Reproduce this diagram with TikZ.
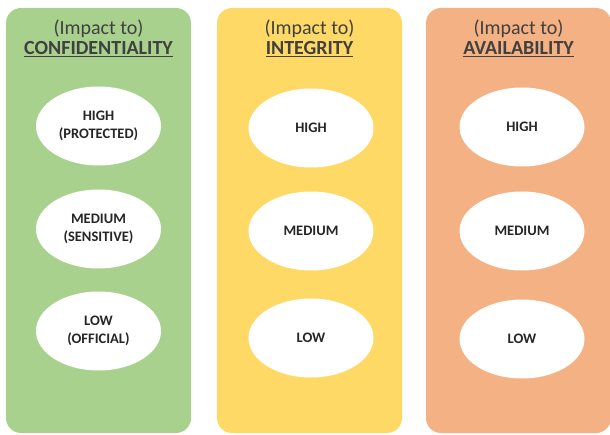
\documentclass[tikz,border=0pt]{standalone}
\usepackage{fontspec}
\setmainfont{Carlito}
\usepackage{tikz}
\usetikzlibrary{positioning,shapes.geometric}

\definecolor{confgreen}{HTML}{A9D18E}
\definecolor{integyellow}{HTML}{FFD966}
\definecolor{availorange}{HTML}{F4B183}

\begin{document}
\begin{tikzpicture}[x=1pt, y=-1pt,
        panel/.style={rounded corners=15pt, minimum width=185pt,
          minimum height=425pt, inner sep=0pt},
        head/.style={align=center, text=black!75,
          font=\fontsize{20}{20}\selectfont},
        level/.style={ellipse, fill=white, align=center, inner sep=0pt,
          minimum width=125pt, minimum height=79pt, text=black!85,
          font=\bfseries\fontsize{14.5}{18}\selectfont}]
      \useasboundingbox (0,0) rectangle (610,435);
      % the three columns
      \node[panel, fill=confgreen]   (conf)  at ( 98.5,220.5) {};
      \node[panel, fill=integyellow] (integ) at (309.5,220.5) {};
      \node[panel, fill=availorange] (avail) at (518.5,220.5) {};
      % headings
      \node[head] (confHead)  at ( 98.5,38) {(Impact to)\\\textbf{\underline{CONFIDENTIALITY}}};
      \node[head] (integHead) at (309.5,38) {(Impact to)\\\textbf{\underline{INTEGRITY}}};
      \node[head] (availHead) at (518.5,38) {(Impact to)\\\textbf{\underline{AVAILABILITY}}};
      % confidentiality levels
      \node[level] (confHigh) at ( 98.5,126) {HIGH\\(PROTECTED)};
      \node[level] (confMed)  at ( 98.5,229) {MEDIUM\\(SENSITIVE)};
      \node[level] (confLow)  at ( 98.5,331) {LOW\\(OFFICIAL)};
      % integrity levels
      \node[level] (integHigh) at (311,128) {HIGH};
      \node[level] (integMed)  at (311,231) {MEDIUM};
      \node[level] (integLow)  at (311,338) {LOW};
      % availability levels
      \node[level] (availHigh) at (522,127) {HIGH};
      \node[level] (availMed)  at (522,231) {MEDIUM};
      \node[level] (availLow)  at (522,339) {LOW};
\end{tikzpicture}
\end{document}
